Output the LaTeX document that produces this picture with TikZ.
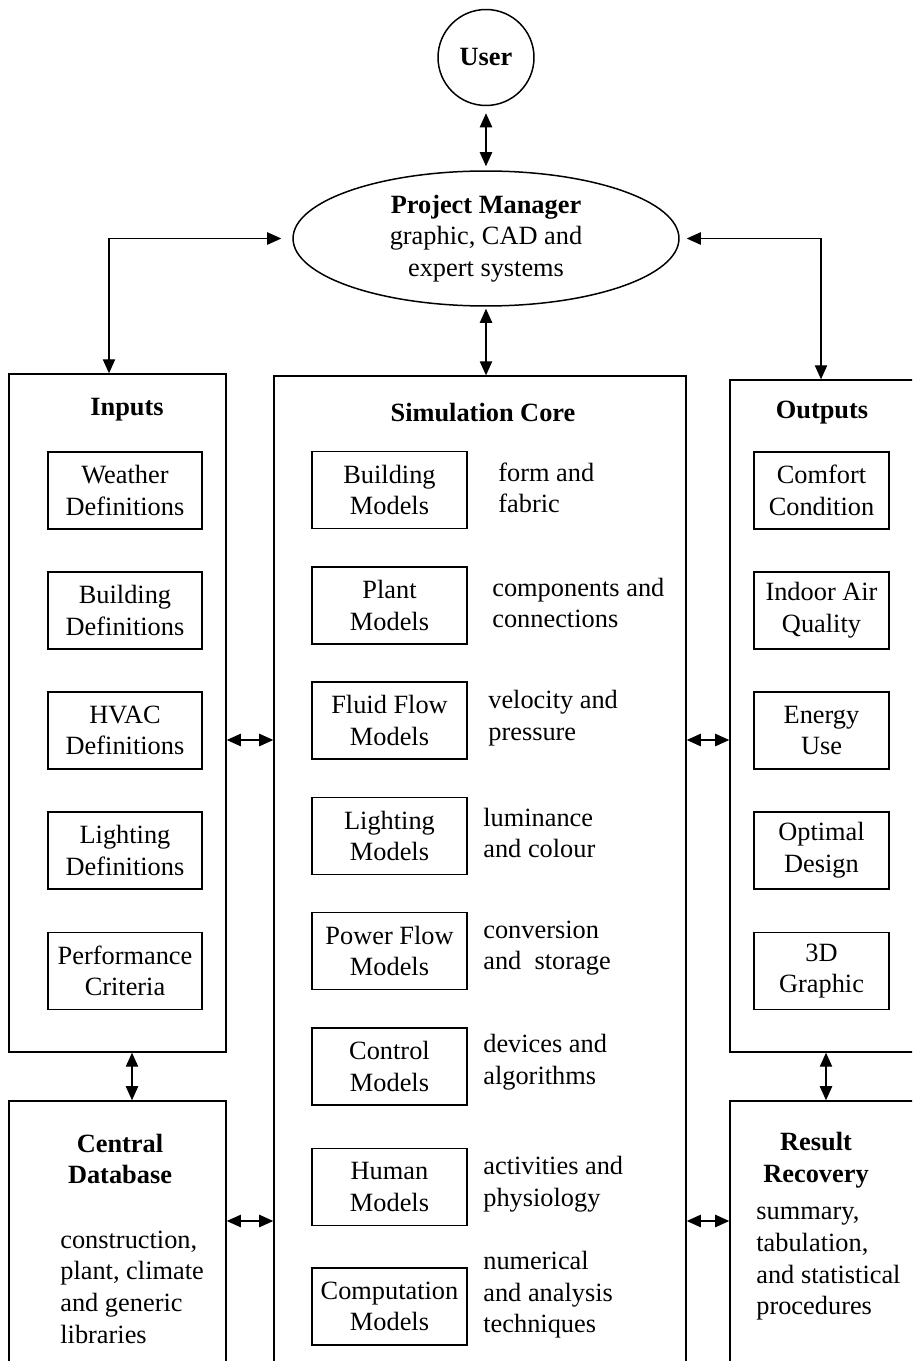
\documentclass[tikz,border=0pt]{standalone}
\usepackage{fontspec}
\setmainfont{Liberation Serif}
\usetikzlibrary{arrows.meta,shapes.geometric,positioning}

\begin{document}
\begin{tikzpicture}[x=0.02cm, y=-0.02cm,
  font=\fontsize{15pt}{18pt}\selectfont,
  panel/.style={draw, line width=0.85pt, inner sep=0pt},
  item/.style={draw, line width=0.85pt, minimum height=1.54cm, align=center, inner sep=0pt},
  desc/.style={anchor=west, align=left, inner sep=0pt},
  title/.style={font=\fontsize{15pt}{18pt}\selectfont\bfseries, align=center, inner sep=0pt},
  biarrow/.style={{Triangle[length=8pt,width=7pt]}-{Triangle[length=8pt,width=7pt]}, line width=0.8pt}]
  \useasboundingbox (0,0) rectangle (912,1361);
  \clip (0,0) rectangle (912,1361);

  % top: user and project manager
  \node[draw, circle, line width=0.85pt, minimum size=1.92cm, inner sep=0pt, font=\fontsize{15pt}{18pt}\selectfont\bfseries] (user) at (486,57.5) {User};
  \node[draw, ellipse, line width=0.85pt, minimum width=7.72cm, minimum height=2.7cm, align=center, inner sep=0pt] (pm) at (486,238.5)
    {\textbf{Project Manager}\\graphic, CAD and\\expert systems};

  % panels
  \node[panel, minimum width=4.34cm, minimum height=13.56cm] (inputs) at (117.5,713) {};
  \node[panel, minimum width=8.24cm, minimum height=20.48cm] (simcore) at (480,888) {};
  \node[panel, minimum width=4.6cm, minimum height=13.44cm] (outputs) at (845,716) {};
  \node[panel, minimum width=4.34cm, minimum height=5.98cm] (centraldb) at (117.5,1250.5) {};
  \node[panel, minimum width=4.6cm, minimum height=5.98cm] (results) at (845,1250.5) {};

  \node[title] (inputs-t) at (127,410) {Inputs};
  \node[title] (simcore-t) at (483,413) {Simulation Core};
  \node[title] (outputs-t) at (822,413) {Outputs};
  \node[title] (centraldb-t) at (120,1159) {Central\\Database};
  \node[title] (results-t) at (816,1160) {Result\\Recovery};

  \foreach \y/\txt [count=\i] in {490.5/{Weather\\Definitions}, 610.5/{Building\\Definitions},
      730.5/{HVAC\\Definitions}, 850.5/{Lighting\\Definitions}, 971/{Performance\\Criteria}}
    \node[item, minimum width=3.08cm] (in\i) at (125,\y) {\txt};

  \foreach \y/\txt [count=\i] in {490.5/{Comfort\\Condition}, 610.5/{Indoor Air\\Quality},
      730.5/{Energy\\Use}, 850.5/{Optimal\\Design}, 971/{3D\\Graphic}}
    \node[item, minimum width=2.7cm] (out\i) at (821.5,\y) {\txt};

  \foreach \by/\dx/\dy/\mtxt/\dtxt [count=\i] in {
      490/498/488/{Building\\Models}/{form and\\fabric},
      605.5/492/603/{Plant\\Models}/{components and\\connections},
      720.5/488/718/{Fluid Flow\\Models}/{velocity and\\pressure},
      836/483/833/{Lighting\\Models}/{luminance\\and colour},
      951/483/948/{Power Flow\\Models}/{conversion\\and~ storage},
      1066.5/483/1062/{Control\\Models}/{devices and\\algorithms},
      1187/483/1184/{Human\\Models}/{activities and\\physiology},
      1306.5/483/1295/{Computation\\Models}/{numerical\\and analysis\\techniques}}
  {
    \node[item, minimum width=3.1cm] (sim\i) at (389.5,\by) {\mtxt};
    \node[desc] (simd\i) at (\dx,\dy) {\dtxt};
  }

  \node[desc] (centraldb-d) at (60,1287) {construction,\\plant, climate\\and generic\\libraries};
  \node[desc] (results-d) at (756,1264) {summary,\\tabulation,\\and statistical\\procedures};

  % connectors
  \coordinate (inx) at (109,0);
  \coordinate (outx) at (821,0);
  \coordinate (dbx) at (132,0);
  \coordinate (rrx) at (826,0);
  \coordinate (row1) at (0,740);
  \coordinate (row2) at (0,1221);
  \draw[biarrow, shorten <=1.4mm, shorten >=0.8mm] (user) -- (pm);
  \draw[biarrow, shorten <=0.4mm] (pm.south) -- (pm.south |- simcore.north);
  \draw[biarrow, shorten <=2.2mm] (pm.west) -| (inx |- inputs.north);
  \draw[biarrow, shorten <=1.4mm] (pm.east) -| (outx |- outputs.north);
  \draw[biarrow] (dbx |- inputs.south) -- (dbx |- centraldb.north);
  \draw[biarrow] (rrx |- outputs.south) -- (rrx |- results.north);
  \draw[biarrow] (inputs.east |- row1) -- (simcore.west |- row1);
  \draw[biarrow] (simcore.east |- row1) -- (outputs.west |- row1);
  \draw[biarrow] (centraldb.east |- row2) -- (simcore.west |- row2);
  \draw[biarrow] (simcore.east |- row2) -- (results.west |- row2);
\end{tikzpicture}
\end{document}
